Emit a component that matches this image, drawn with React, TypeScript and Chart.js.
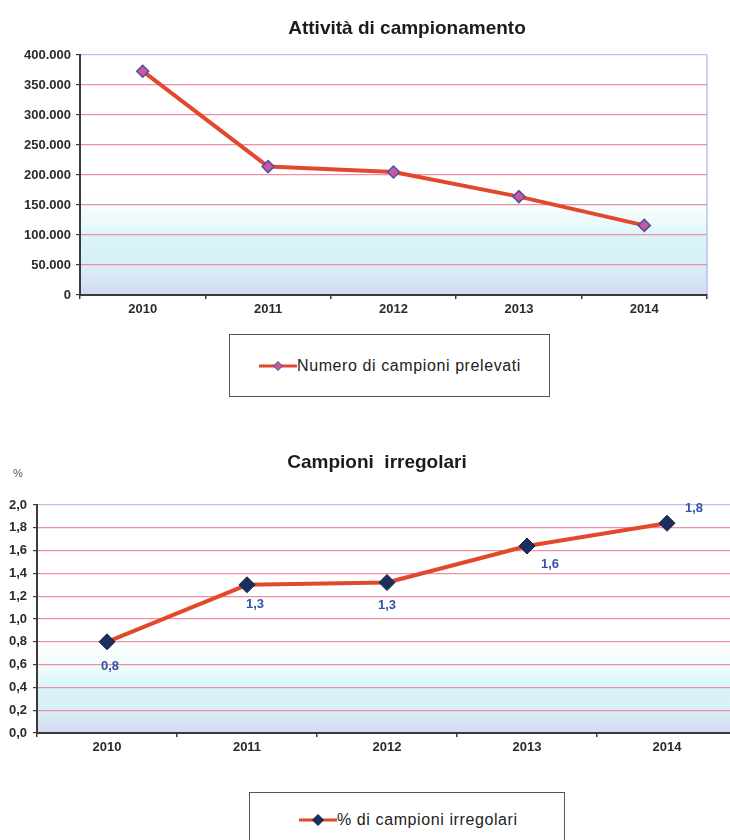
import React, { useEffect, useRef } from 'react';
import { Chart, registerables } from 'chart.js';

Chart.register(...registerables);

// ---------- data ----------
const years = ['2010', '2011', '2012', '2013', '2014'];
const campioniPrelevati = [373000, 214000, 205000, 164000, 116000];
const percIrregolari = [0.8, 1.3, 1.32, 1.64, 1.84];

const title1 = 'Attività di campionamento';
const title2 = 'Campioni  irregolari';
const legend1 = 'Numero di campioni prelevati';
const legend2 = '% di campioni irregolari';
const yUnit2 = '%';

const y1Max = 400000;
const y1Step = 50000;
const y2Max = 2;
const y2Step = 0.2;

// ---------- styles ----------
const FONT = "'Liberation Sans', Arial, sans-serif";
const LINE_RED = '#e2492c';
const GRID_PINK = '#ef8fa6';
const GRID_TOP = '#b9c1ee';
const AXIS = '#3a3a3a';
const TICK_TEXT = '#2b2b2b';
const LABEL_BLUE = '#3453a6';
// label placement relative to each point (dx, dy)
const labelOffsets: [number, number][] = [[3, 25], [8, 20], [0, 23], [23, 18], [27, -15]];

const fmtThousands = (v: number) => String(Math.round(v)).replace(/\B(?=(\d{3})+(?!\d))/g, '.');
const fmtDec = (v: number) => v.toFixed(1).replace('.', ',');

const bgPlugin = (stops: [number, string][]) => ({
  id: 'plotBg',
  beforeDraw(chart: any) {
    const { ctx, chartArea: a } = chart;
    const g = ctx.createLinearGradient(0, a.top, 0, a.bottom);
    stops.forEach(([o, c]) => g.addColorStop(o, c));
    ctx.save();
    ctx.fillStyle = g;
    ctx.fillRect(a.left, a.top, a.right - a.left, a.bottom - a.top);
    ctx.strokeStyle = GRID_TOP;
    ctx.lineWidth = 1.5;
    ctx.beginPath();
    ctx.moveTo(a.right, a.top);
    ctx.lineTo(a.right, a.bottom);
    ctx.stroke();
    ctx.restore();
  },
});

const valueLabelsPlugin = {
  id: 'valueLabels',
  afterDatasetsDraw(chart: any) {
    const { ctx } = chart;
    const meta = chart.getDatasetMeta(0);
    const vals = chart.data.datasets[0].data as number[];
    ctx.save();
    ctx.font = `bold 13px ${FONT}`;
    ctx.fillStyle = LABEL_BLUE;
    ctx.textAlign = 'center';
    ctx.textBaseline = 'middle';
    meta.data.forEach((pt: any, i: number) => {
      const [dx, dy] = labelOffsets[i];
      ctx.fillText(fmtDec(vals[i]), pt.x + dx, pt.y + dy);
    });
    ctx.restore();
  },
};

function makeScales(opts: {
  max: number;
  step: number;
  yWidth: number;
  fmt: (v: number) => string;
  yPad: number;
}) {
  const tickFont = { family: FONT, size: 13, weight: 'bold' as const };
  return {
    x: {
      type: 'category' as const,
      offset: true,
      afterFit: (s: any) => {
        s.height = 25;
      },
      grid: {
        offset: true,
        drawOnChartArea: false,
        drawTicks: true,
        tickLength: 4,
        color: AXIS,
        tickColor: AXIS,
        lineWidth: 1.5,
      },
      border: { display: true, color: AXIS, width: 2 },
      ticks: { font: tickFont, color: TICK_TEXT, padding: 3, maxRotation: 0, autoSkip: false },
    },
    y: {
      min: 0,
      max: opts.max,
      afterFit: (s: any) => {
        s.width = opts.yWidth;
      },
      grid: {
        drawTicks: true,
        tickLength: 4,
        tickColor: AXIS,
        lineWidth: 1.2,
        color: (ctx: any) =>
          ctx.tick && Math.abs(ctx.tick.value - opts.max) < 1e-9 ? GRID_TOP : GRID_PINK,
      },
      border: { display: true, color: AXIS, width: 2 },
      ticks: {
        stepSize: opts.step,
        autoSkip: false,
        font: tickFont,
        color: TICK_TEXT,
        padding: opts.yPad,
        callback: (v: any) => opts.fmt(Number(v)),
      },
    },
  };
}

function ChartCanvas({
  make,
  width,
  height,
  left,
  top,
}: {
  make: () => any;
  width: number;
  height: number;
  left: number;
  top: number;
}) {
  const ref = useRef<HTMLCanvasElement>(null);
  useEffect(() => {
    const chart = new Chart(ref.current as HTMLCanvasElement, make());
    return () => chart.destroy();
  }, []);
  return (
    <canvas
      ref={ref}
      width={width}
      height={height}
      style={{ position: 'absolute', left, top, width, height, display: 'block' }}
    />
  );
}

const config1 = () => ({
  type: 'line',
  data: {
    labels: years,
    datasets: [
      {
        label: legend1,
        data: campioniPrelevati,
        borderColor: LINE_RED,
        borderWidth: 4,
        tension: 0,
        borderJoinStyle: 'round',
        pointStyle: 'rectRot',
        pointRadius: 6,
        pointBackgroundColor: '#c85a9c',
        pointBorderColor: '#4f4fa6',
        pointBorderWidth: 1.5,
      },
    ],
  },
  options: {
    responsive: false,
    animation: false,
    devicePixelRatio: 1,
    layout: { padding: { top: 55, right: 23, bottom: 10, left: 0 } },
    plugins: { legend: { display: false }, title: { display: false }, tooltip: { enabled: false } },
    scales: makeScales({ max: y1Max, step: y1Step, yWidth: 80, fmt: fmtThousands, yPad: 5 }),
  },
  plugins: [
    bgPlugin([
      [0, '#ffffff'],
      [0.58, '#ffffff'],
      [0.7, '#ecfafb'],
      [0.76, '#d9f5f8'],
      [0.9, '#d8ecf7'],
      [1, '#d3daf1'],
    ]),
  ],
});

const config2 = () => ({
  type: 'line',
  data: {
    labels: years,
    datasets: [
      {
        label: legend2,
        data: percIrregolari,
        borderColor: LINE_RED,
        borderWidth: 4,
        tension: 0,
        borderJoinStyle: 'round',
        pointStyle: 'rectRot',
        pointRadius: 8,
        pointBackgroundColor: '#1b2f5f',
        pointBorderColor: '#14254d',
        pointBorderWidth: 1,
      },
    ],
  },
  options: {
    responsive: false,
    animation: false,
    devicePixelRatio: 1,
    layout: { padding: { top: 65, right: 23, bottom: 12, left: 0 } },
    plugins: { legend: { display: false }, title: { display: false }, tooltip: { enabled: false } },
    scales: makeScales({ max: y2Max, step: y2Step, yWidth: 37, fmt: fmtDec, yPad: 6 }),
  },
  plugins: [
    bgPlugin([
      [0, '#ffffff'],
      [0.6, '#ffffff'],
      [0.72, '#eefbfb'],
      [0.79, '#d9f6f8'],
      [0.9, '#d8eef8'],
      [1, '#d4d9f0'],
    ]),
    valueLabelsPlugin,
  ],
});

function LegendBox({
  left,
  top,
  width,
  height,
  iconLeft,
  text,
  fill,
  stroke,
  r,
}: {
  left: number;
  top: number;
  width: number;
  height: number;
  iconLeft: number;
  text: string;
  fill: string;
  stroke: string;
  r: number;
}) {
  return (
    <div
      style={{
        position: 'absolute',
        left,
        top,
        width,
        height,
        boxSizing: 'border-box',
        border: '1.5px solid #555',
        background: '#fff',
        display: 'flex',
        alignItems: 'center',
        paddingLeft: iconLeft,
      }}
    >
      <svg width={38} height={14} style={{ display: 'block', flex: '0 0 auto' }}>
        <line x1={0} y1={7} x2={38} y2={7} stroke={LINE_RED} strokeWidth={3} />
        <polygon
          points={`${19 - r},7 19,${7 - r} ${19 + r},7 19,${7 + r}`}
          fill={fill}
          stroke={stroke}
          strokeWidth={1}
        />
      </svg>
      <span
        style={{
          fontFamily: FONT,
          fontSize: 16,
          letterSpacing: 0.6,
          color: '#222',
          whiteSpace: 'nowrap',
          lineHeight: '18px',
        }}
      >
        {text}
      </span>
    </div>
  );
}

export default function App() {
  return (
    <div
      style={{
        position: 'absolute',
        left: 0,
        top: 0,
        width: 730,
        height: 840,
        overflow: 'hidden',
        background: '#fff',
      }}
    >
      <ChartCanvas make={config1} width={730} height={330} left={0} top={0} />
      <div
        style={{
          position: 'absolute',
          left: 407,
          top: 17,
          transform: 'translateX(-50%)',
          fontFamily: FONT,
          fontWeight: 'bold',
          fontSize: 19,
          lineHeight: '22px',
          color: '#1c1c1c',
          whiteSpace: 'pre',
        }}
      >
        {title1}
      </div>
      <LegendBox
        left={229}
        top={334}
        width={321}
        height={63}
        iconLeft={29}
        text={legend1}
        fill="#c85a9c"
        stroke="#4f4fa6"
        r={4.5}
      />

      <ChartCanvas make={config2} width={760} height={330} left={0} top={440} />
      <div
        style={{
          position: 'absolute',
          left: 377,
          top: 451,
          transform: 'translateX(-50%)',
          fontFamily: FONT,
          fontWeight: 'bold',
          fontSize: 19,
          lineHeight: '22px',
          color: '#1c1c1c',
          whiteSpace: 'pre',
        }}
      >
        {title2}
      </div>
      <div
        style={{
          position: 'absolute',
          left: 13,
          top: 466,
          fontFamily: FONT,
          fontSize: 11,
          lineHeight: '14px',
          color: '#555',
        }}
      >
        {yUnit2}
      </div>
      <LegendBox
        left={249}
        top={792}
        width={316}
        height={55}
        iconLeft={49}
        text={legend2}
        fill="#1b2f5f"
        stroke="#14254d"
        r={5.5}
      />
    </div>
  );
}
